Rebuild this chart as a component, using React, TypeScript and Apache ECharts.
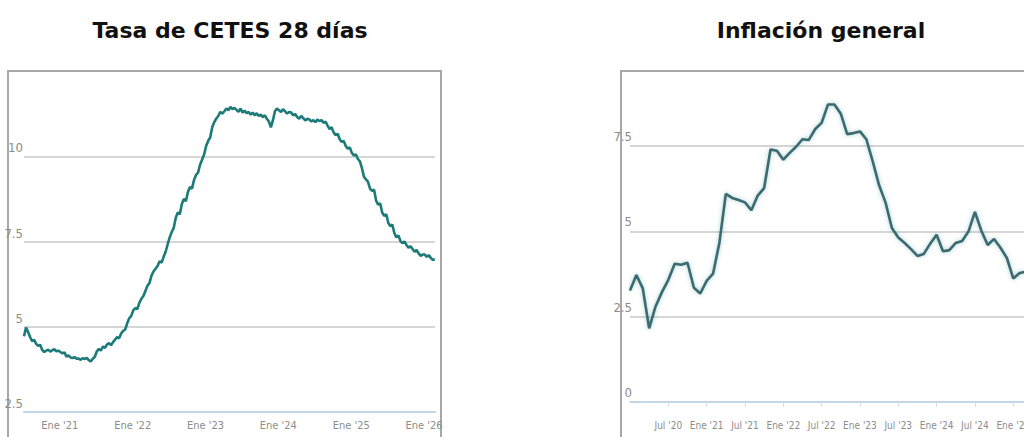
import React, { useEffect, useRef } from "react";
import * as echarts from "echarts";

// CETES 28-day rate: three readings per month, first one at early July 2020
// (x is expressed in months since January 2021).
const cetesStart = -5.9;
const cetesStep = 1 / 3;
const cetesValues: number[] = [
  4.72, 4.98, 4.85, 4.70, 4.58, 4.62, 4.50, 4.44, 4.47, 4.32, 4.26, 4.30,
  4.33, 4.27, 4.31, 4.34, 4.28, 4.30, 4.26, 4.22, 4.25, 4.12, 4.16, 4.10,
  4.08, 4.11, 4.06, 4.07, 4.03, 4.08, 4.05, 4.09, 4.02, 3.98, 4.06, 4.12,
  4.28, 4.35, 4.30, 4.42, 4.38, 4.48, 4.52, 4.46, 4.55, 4.62, 4.70, 4.66,
  4.80, 4.88, 4.92, 5.10, 5.25, 5.32, 5.48, 5.55, 5.52, 5.70, 5.82, 5.90,
  6.05, 6.20, 6.28, 6.50, 6.62, 6.70, 6.78, 6.92, 6.88, 7.05, 7.20, 7.42,
  7.62, 7.78, 7.90, 8.20, 8.35, 8.30, 8.60, 8.75, 8.68, 8.95, 9.10, 9.05,
  9.30, 9.45, 9.52, 9.75, 9.90, 10.05, 10.30, 10.45, 10.55, 10.85, 11.00, 11.10,
  11.18, 11.30, 11.25, 11.32, 11.40, 11.35, 11.45, 11.38, 11.42, 11.36, 11.30, 11.40,
  11.28, 11.34, 11.26, 11.30, 11.22, 11.28, 11.20, 11.26, 11.18, 11.22, 11.15, 11.20,
  11.10, 11.02, 10.85, 11.05, 11.32, 11.40, 11.35, 11.30, 11.38, 11.32, 11.25, 11.30,
  11.28, 11.20, 11.24, 11.15, 11.10, 11.18, 11.12, 11.05, 11.10, 11.08, 11.02, 11.06,
  11.00, 11.08, 11.03, 11.06, 10.98, 11.02, 10.90, 10.80, 10.85, 10.70, 10.62, 10.66,
  10.50, 10.42, 10.45, 10.30, 10.22, 10.26, 10.10, 10.02, 10.06, 9.92, 9.85, 9.65,
  9.40, 9.32, 9.25, 9.05, 8.98, 9.02, 8.70, 8.58, 8.62, 8.35, 8.25, 8.30,
  8.05, 7.95, 8.00, 7.75, 7.62, 7.68, 7.52, 7.45, 7.50, 7.40, 7.32, 7.36,
  7.28, 7.20, 7.25, 7.15, 7.08, 7.12, 7.12, 7.05, 7.10, 7.02, 6.96, 6.98,
];
const cetesYearTicks = [0, 12, 24, 36, 48, 60];
const cetesYTicks = [2.5, 5, 7.5, 10];

// Annual headline inflation, monthly from January 2020
// (x is the month index counted from January 2020).
const inflationValues: number[] = [
  3.27, 3.72, 3.33, 2.16, 2.80, 3.22, 3.58, 4.05, 4.02, 4.08, 3.35, 3.18,
  3.55, 3.76, 4.67, 6.10, 5.98, 5.92, 5.85, 5.62, 6.05, 6.27, 7.40, 7.36,
  7.10, 7.30, 7.48, 7.70, 7.68, 8.00, 8.18, 8.72, 8.72, 8.45, 7.85, 7.88,
  7.93, 7.70, 7.05, 6.35, 5.85, 5.10, 4.82, 4.66, 4.48, 4.28, 4.34, 4.64,
  4.90, 4.42, 4.45, 4.66, 4.72, 5.00, 5.57, 5.02, 4.60, 4.78, 4.52, 4.22,
  3.62, 3.78, 3.82,
];
const inflationHalfYearTicks = [6, 12, 18, 24, 30, 36, 42, 48, 54, 60];
const inflationYTicks = [0, 2.5, 5, 7.5];

const titles = ["Tasa de CETES 28 días", "Inflación general"];

const narrowFont = "'Liberation Sans Narrow', 'DejaVu Sans Condensed', sans-serif";
const titleFont = "'DejaVu Sans', sans-serif";
const labelColor = "#8c8c8c";
const gridColor = "#d6d6d6";
const axisBlue = "#c3d6e8";
const boxColor = "#a8a8a8";

const cetesLabel = (v: number) => "Ene '" + (21 + Math.round(v / 12));
const inflationLabel = (v: number) =>
  (v % 12 === 0 ? "Ene" : "Jul") + " '" + (20 + Math.floor(v / 12));

export default function App() {
  const ref = useRef<HTMLDivElement>(null);

  useEffect(() => {
    if (!ref.current) return;
    const chart = echarts.init(ref.current, undefined, { renderer: "svg" });

    const cetesData = cetesValues.map((v, i) => [cetesStart + i * cetesStep, v]);
    const inflationData = inflationValues.map((v, i) => [i, v]);

    const yAxisCommon = {
      type: "value" as const,
      interval: 2.5,
      axisLine: { show: false },
      axisTick: { show: false },
      splitLine: {
        show: true,
        showMinLine: false,
        showMaxLine: false,
        lineStyle: { color: gridColor, width: 2 },
      },
    };

    const titleStyle = {
      fontFamily: titleFont,
      fontWeight: "bold" as const,
      fontSize: 22,
      color: "#111",
    };

    chart.setOption({
      animation: false,
      backgroundColor: "#ffffff",
      title: [
        { text: titles[0], left: 225, top: 14, textAlign: "center", textStyle: titleStyle },
        { text: titles[1], left: 816, top: 14, textAlign: "center", textStyle: titleStyle },
      ],
      graphic: [
        {
          type: "rect",
          z: 0,
          silent: true,
          shape: { x: 8, y: 71, width: 433, height: 420 },
          style: { fill: "none", stroke: boxColor, lineWidth: 2 },
        },
        {
          type: "rect",
          z: 0,
          silent: true,
          shape: { x: 621, y: 71, width: 600, height: 420 },
          style: { fill: "none", stroke: boxColor, lineWidth: 2 },
        },
      ],
      grid: [
        { left: 24, top: 71, width: 411, height: 341, outerBoundsMode: "none", containLabel: false },
        { left: 630, top: 71, width: 511, height: 331, outerBoundsMode: "none", containLabel: false },
      ],
      xAxis: [
        {
          gridIndex: 0,
          type: "value",
          min: -5.9,
          max: 61.8,
          splitLine: { show: false },
          axisLine: { show: true, onZero: false, lineStyle: { color: axisBlue, width: 2 } },
          axisTick: { show: false },
          axisLabel: {
            customValues: cetesYearTicks,
            formatter: cetesLabel,
            color: labelColor,
            fontFamily: narrowFont,
            fontSize: 11,
            margin: 8,
          },
        },
        {
          gridIndex: 1,
          type: "value",
          min: 0,
          max: 80,
          splitLine: { show: false },
          axisLine: { show: true, onZero: false, lineStyle: { color: axisBlue, width: 2 } },
          axisTick: {
            show: true,
            customValues: inflationHalfYearTicks,
            length: 5,
            lineStyle: { color: "#dcdcdc", width: 1 },
          },
          axisLabel: {
            customValues: inflationHalfYearTicks,
            formatter: inflationLabel,
            color: labelColor,
            fontFamily: narrowFont,
            fontSize: 10,
            margin: 18,
            hideOverlap: false,
          },
        },
      ],
      yAxis: [
        {
          ...yAxisCommon,
          gridIndex: 0,
          min: 2.5,
          max: 12.5,
          axisLabel: {
            customValues: cetesYTicks,
            color: labelColor,
            fontFamily: narrowFont,
            fontSize: 13,
            margin: 1,
            verticalAlign: "bottom",
            padding: [0, 0, 2, 0],
          },
        },
        {
          ...yAxisCommon,
          gridIndex: 1,
          min: 0,
          max: 9.7,
          axisLabel: {
            customValues: inflationYTicks,
            color: labelColor,
            fontFamily: narrowFont,
            fontSize: 13,
            margin: -2,
            verticalAlign: "bottom",
            padding: [0, 0, 3, 0],
          },
        },
      ],
      series: [
        {
          type: "line",
          xAxisIndex: 0,
          yAxisIndex: 0,
          data: cetesData,
          showSymbol: false,
          lineStyle: { color: "#1a7b79", width: 2.6 },
          z: 5,
        },
        {
          type: "line",
          xAxisIndex: 1,
          yAxisIndex: 1,
          data: inflationData,
          showSymbol: false,
          lineStyle: {
            color: "#3a6a6f",
            width: 2.6,
            shadowColor: "rgba(60, 140, 145, 0.45)",
            shadowBlur: 4,
          },
          z: 5,
        },
      ],
    });

    return () => chart.dispose();
  }, []);

  return (
    <div
      ref={ref}
      style={{ position: "absolute", left: 0, top: 0, width: 1024, height: 437, overflow: "hidden" }}
    />
  );
}
